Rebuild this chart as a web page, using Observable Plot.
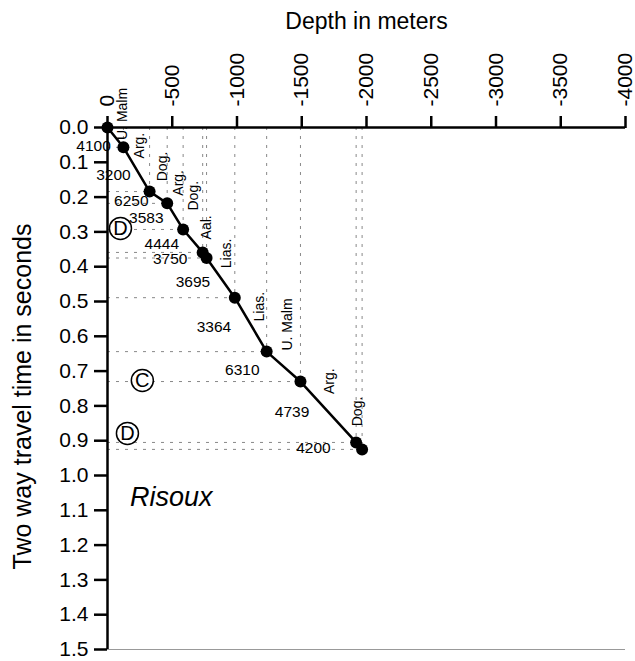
<!DOCTYPE html>
<html><head><meta charset="utf-8">
<script src="https://cdn.jsdelivr.net/npm/d3@7"></script>
<script src="https://cdn.jsdelivr.net/npm/@observablehq/plot@0.6"></script>
<style>body{margin:0;background:#fff} svg{font-family:"Liberation Sans",Arial,sans-serif}</style>
</head><body><div id="chart"></div>
<script>
// Well velocity survey: depth (m) vs two-way travel time (s)
const depth = [0, 123, 325, 461, 584, 735, 765, 983, 1229, 1490, 1920, 1966];
const time  = [0, 0.057, 0.184, 0.218, 0.293, 0.359, 0.375, 0.489, 0.644, 0.730, 0.905, 0.925];

const xTicks = [0, 500, 1000, 1500, 2000, 2500, 3000, 3500, 4000];
const xTickLabels = ["0", "-500", "-1000", "-1500", "-2000", "-2500", "-3000", "-3500", "-4000"];
const yTicks = [0, 0.1, 0.2, 0.3, 0.4, 0.5, 0.6, 0.7, 0.8, 0.9, 1.0, 1.1, 1.2, 1.3, 1.4, 1.5];
const yTickLabels = ["0.0","0.1","0.2","0.3","0.4","0.5","0.6","0.7","0.8","0.9","1.0","1.1","1.2","1.3","1.4","1.5"];

// interval velocities (m/s) and their label positions (depth, time)
const velocity = ["4100", "3200", "6250", "3583", "4444", "3750", "3695", "3364", "6310", "4739", "4200"];
const velDepth = [-108, 46, 184, 300, 419, 484, 660, 822, 1041, 1425, 1590];
const velTime  = [0.052, 0.138, 0.210, 0.259, 0.334, 0.379, 0.445, 0.572, 0.698, 0.819, 0.922];

// formations
const formation = ["U. Malm", "Arg.", "Dog.", "Arg.", "Dog.", "Aal.", "Lias.", "Lias.", "U. Malm", "Arg.", "Dog."];
const formDepth = [118, 246, 422, 545, 668, 768, 922, 1175, 1390, 1713, 1928];
const formTime  = [-0.039, 0.052, 0.112, 0.159, 0.196, 0.287, 0.362, 0.515, 0.566, 0.729, 0.816];

// circled markers
const marker = ["D", "C", "D"];
const markerDepth = [100, 269, 154];
const markerTime  = [0.29, 0.727, 0.879];

const site = "Risoux";
const siteDepth = 492, siteTime = 1.063;

const pts = depth.map((d, i) => ({d, t: time[i]}));
const vel = velocity.map((v, i) => ({v, d: velDepth[i], t: velTime[i]}));
const form = formation.map((f, i) => ({f, d: formDepth[i], t: formTime[i]}));
const mk = marker.map((m, i) => ({m, d: markerDepth[i], t: markerTime[i]}));

const dash = {stroke: "#888", strokeWidth: 1, strokeDasharray: "3,6"};

const chart = Plot.plot({
  width: 635, height: 661,
  marginTop: 127, marginLeft: 107, marginRight: 10, marginBottom: 12,
  style: {fontFamily: "Liberation Sans, Arial, sans-serif", background: "white", color: "black"},
  x: {domain: [0, 4000]},
  y: {domain: [0, 1.5], reverse: true},
  marks: [
    Plot.ruleY(pts.slice(1), {y: "t", x1: d => 0, x2: "d", ...dash}),
    Plot.ruleX(pts.slice(1), {x: "d", y1: d => 0, y2: "t", ...dash}),
    Plot.ruleY([1.5], {stroke: "#999", strokeWidth: 1}),
    Plot.ruleY([0], {strokeWidth: 2.5}),
    Plot.ruleX([0], {strokeWidth: 2.5}),
    Plot.axisX({anchor: "top", ticks: xTicks, tickFormat: d => xTickLabels[xTicks.indexOf(d)],
      tickRotate: -90, tickSize: 12, tickPadding: 9, fontSize: 21, strokeWidth: 2.5, label: null}),
    Plot.axisY({anchor: "left", ticks: yTicks, tickFormat: d => yTickLabels[yTicks.indexOf(d)],
      tickSize: 13, tickPadding: 6, fontSize: 21, strokeWidth: 2.5, label: null}),
    Plot.line(pts, {x: "d", y: "t", strokeWidth: 2.5}),
    Plot.dot(pts, {x: "d", y: "t", r: 6, fill: "black"}),
    Plot.text(vel, {x: "d", y: "t", text: "v", fontSize: 15.5}),
    Plot.text(form, {x: "d", y: "t", text: "f", rotate: -90, fontSize: 14}),
    Plot.dot(mk, {x: "d", y: "t", r: 11, stroke: "black", strokeWidth: 1.5, fill: "white"}),
    Plot.text(mk, {x: "d", y: "t", text: "m", fontSize: 20}),
    Plot.text([site], {x: () => siteDepth, y: () => siteTime, text: d => d, fontSize: 27, fontStyle: "italic"}),
    Plot.text(["Depth in meters"], {frameAnchor: "top", text: d => d, textAnchor: "middle", dy: -115, fontSize: 23}),
    Plot.text(["Two way travel time in seconds"], {frameAnchor: "left", text: d => d, textAnchor: "middle", rotate: -90, dx: -85, dy: 8, fontSize: 25})
  ]
});
document.getElementById("chart").append(chart);
</script>
</body></html>
